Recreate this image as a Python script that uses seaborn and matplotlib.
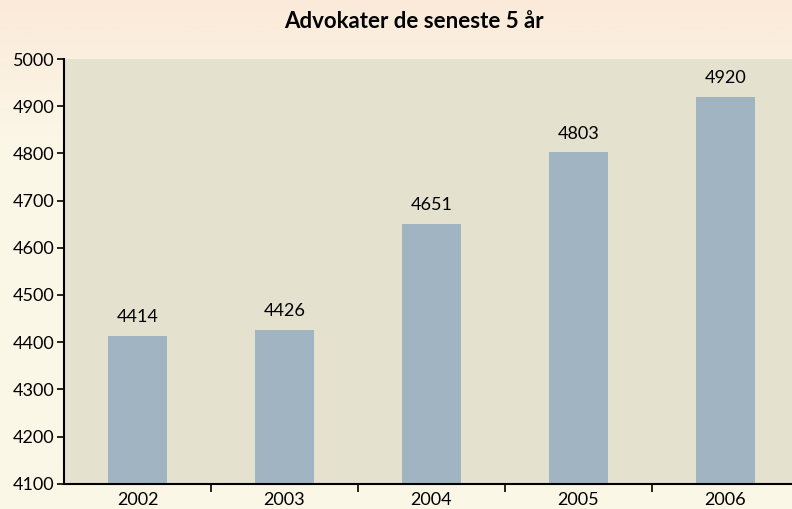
import numpy as np
import matplotlib.pyplot as plt
import seaborn as sns
import pandas as pd

years = ['2002', '2003', '2004', '2005', '2006']
lawyers = [4414, 4426, 4651, 4803, 4920]
y_ticks = [4100, 4200, 4300, 4400, 4500, 4600, 4700, 4800, 4900, 5000]

df = pd.DataFrame({'year': years, 'count': lawyers})

sns.set_style('ticks')
plt.rcParams['font.family'] = ['Lato', 'DejaVu Sans']
plt.rcParams['text.color'] = 'black'
plt.rcParams['xtick.color'] = 'black'
plt.rcParams['ytick.color'] = 'black'

fig = plt.figure(figsize=(7.92, 5.09), dpi=100)
fig.patch.set_facecolor('#fbf7e7')

# soft warm wash at the top of the page
bg = fig.add_axes([0, 0, 1, 1], zorder=-10)
grad = np.linspace(0, 1, 256).reshape(-1, 1)
top = np.array([251, 234, 218]) / 255
bottom = np.array([251, 247, 231]) / 255
w = np.clip(grad * 3.5, 0, 1)
img = top * (1 - w[..., None]) + bottom * w[..., None]
bg.imshow(img, aspect='auto', extent=[0, 1, 0, 1])
bg.set_axis_off()

ax = fig.add_axes([64 / 792, 1 - 483.7 / 509, 735 / 792, (483.7 - 59) / 509])
ax.set_facecolor('#e4e1cf')

sns.barplot(data=df, x='year', y='count', color='#a0b4c1', width=0.4,
            saturation=1, linewidth=0, ax=ax)

ax.set_ylim(4100, 5000)
ax.set_xlim(-0.5, 4.5)
ax.set_yticks(y_ticks)
ax.set_yticklabels([str(t) for t in y_ticks], fontsize=13)
ax.set_xticks(np.arange(5))
ax.set_xticklabels(years, fontsize=13)
ax.tick_params(axis='x', length=0, pad=6)
ax.set_xticks(np.arange(0.5, 4.5, 1), minor=True)
ax.tick_params(axis='x', which='minor', length=6, width=1.2, color='black')
ax.tick_params(axis='y', length=5, width=1.2, color='black', pad=2)
ax.set_xlabel('')
ax.set_ylabel('')

for s in ['top', 'right']:
    ax.spines[s].set_visible(False)
for s in ['left', 'bottom']:
    ax.spines[s].set_linewidth(1.5)
    ax.spines[s].set_color('black')

for i, v in enumerate(lawyers):
    ax.text(i, v + 22, str(v), ha='center', va='bottom', fontsize=13)

fig.text(414 / 792, 1 - 22 / 509, 'Advokater de seneste 5 år', ha='center',
         va='center', fontsize=16, fontweight='bold')

fig.savefig('out.png', dpi=100, facecolor=fig.get_facecolor())
